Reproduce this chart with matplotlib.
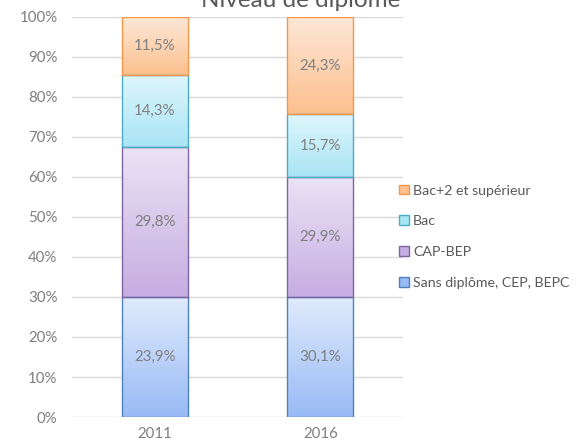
"""Niveau de diplôme: 100% stacked bars, 2011 vs 2016."""

import numpy as np
import matplotlib

matplotlib.use("Agg", force=True)
import matplotlib.pyplot as plt
from matplotlib.colors import LinearSegmentedColormap
from matplotlib.patches import Patch

years = ["2011", "2016"]
categories = ["Sans diplôme, CEP, BEPC", "CAP-BEP", "Bac", "Bac+2 et supérieur"]
sans_diplome = [23.9, 30.1]
cap_bep = [29.8, 29.9]
bac = [14.3, 15.7]
bac_plus2 = [11.5, 24.3]

# (top colour, bottom colour, edge colour) per series
styles = [
    ("#e1ecfc", "#98baf5", "#4f81bd"),
    ("#ebe3f5", "#c6ade2", "#8064a2"),
    ("#def6fc", "#a9e4f4", "#4bacc6"),
    ("#fde8d8", "#fbc08e", "#f79646"),
]

plt.rcParams["font.family"] = ["Lato", "DejaVu Sans"]
grey = "#7f7f7f"

series = np.array([sans_diplome, cap_bep, bac, bac_plus2])
totals = series.sum(axis=0)
shares = series / totals * 100

fig = plt.figure(figsize=(5.81, 4.46), dpi=100)
ax = fig.add_axes([0.124, 0.065, 0.5697, 0.897])

x = np.arange(len(years))
bottom = np.zeros(len(years))
gradient = np.linspace(0, 1, 256).reshape(-1, 1)
for values, share, (top_c, bot_c, edge_c) in zip(series, shares, styles):
    bars = ax.bar(x, share, width=0.4, bottom=bottom, facecolor="none",
                  edgecolor=edge_c, linewidth=1.0, zorder=3)
    cmap = LinearSegmentedColormap.from_list("g", [bot_c, top_c])
    for bar, v in zip(bars, values):
        x0, y0 = bar.get_x(), bar.get_y()
        w, h = bar.get_width(), bar.get_height()
        img = ax.imshow(gradient, cmap=cmap, origin="lower", aspect="auto",
                        extent=(x0, x0 + w, y0, y0 + h), zorder=2)
        img.set_clip_path(bar)
        ax.text(x0 + w / 2, y0 + h / 2, f"{v:.1f}%".replace(".", ","),
                ha="center", va="center", fontsize=10.8, color=grey, zorder=4)
    bottom += share

ax.set_xlim(-0.5, 1.5)
ax.set_ylim(0, 100)
ax.set_xticks(x, years)
ax.set_yticks(np.arange(0, 101, 10), [f"{v}%" for v in range(0, 101, 10)])
ax.tick_params(length=0, labelsize=10.8, labelcolor=grey)
ax.tick_params(axis="y", pad=10.5)
ax.tick_params(axis="x", pad=7)
ax.grid(True, axis="y", color="#d9d9d9", linewidth=1.0, zorder=0)
ax.set_axisbelow(True)
for spine in ax.spines.values():
    spine.set_visible(False)

handles = [Patch(facecolor=s[1], edgecolor=s[2], linewidth=1.0) for s in styles]
fig.legend(handles[::-1], categories[::-1], loc="center left",
           bbox_to_anchor=(0.677, 0.4695), frameon=False, fontsize=10.2,
           labelcolor="#595959", handlelength=0.68, handleheight=0.68,
           handletextpad=0.3, labelspacing=1.32, borderaxespad=0)

fig.text(0.518, 0.984, "Niveau de diplôme", ha="center", va="baseline",
         fontsize=17.5, color="#595959")

fig.savefig("out.png", dpi=100)
plt.close(fig)
